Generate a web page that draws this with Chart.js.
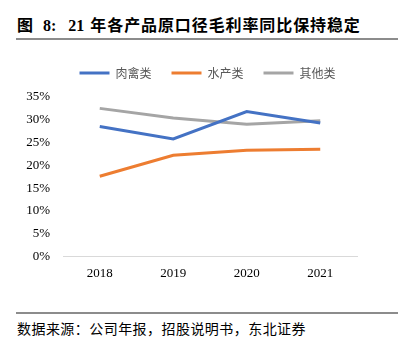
<!DOCTYPE html>
<html>
<head>
<meta charset="utf-8">
<script src="https://cdn.jsdelivr.net/npm/chart.js"></script>
<style>
  body { margin: 0; width: 402px; height: 347px; background: #fff; position: relative; overflow: hidden; }
  .title {
    position: absolute; left: 17px; top: 12px;
    font: bold 16px "Liberation Serif", "Noto Sans CJK SC", serif;
    color: #000; white-space: nowrap;
  }
  .rule { position: absolute; left: 16px; width: 382px; height: 2px; background: #8c8c8c; }
  .foot {
    position: absolute; left: 17px; top: 318px;
    font: 14px "Liberation Serif", "Noto Sans CJK SC", serif;
    letter-spacing: 0.45px;
    color: #000; white-space: nowrap;
  }
  #wrap { position: absolute; left: 0; top: 45px; width: 402px; height: 255px; }
</style>
</head>
<body>
<div class="title"><span>图</span><span style="margin-left:10px">8:</span><span style="margin-left:12px">21</span><span style="margin-left:6px; letter-spacing:0.9px">年各产品原口径毛利率同比保持稳定</span></div>
<div class="rule" style="top:38px"></div>
<div id="wrap"><canvas id="c"></canvas></div>
<div class="rule" style="top:312px; height:1.5px"></div>
<div class="foot">数据来源：公司年报，招股说明书，东北证券</div>
<script>
const years = ["2018", "2019", "2020", "2021"];
const meat = [0.285, 0.258, 0.318, 0.293];
const aquatic = [0.176, 0.222, 0.233, 0.235];
const other = [0.325, 0.304, 0.290, 0.298];
const yTicks = [0, 0.05, 0.10, 0.15, 0.20, 0.25, 0.30, 0.35];

const serif = "'Liberation Serif', 'Noto Sans CJK SC', serif";

function series(label, data, color) {
  return {
    label: label,
    data: data,
    borderColor: color,
    backgroundColor: color,
    borderWidth: 3,
    pointRadius: 0,
    tension: 0,
    fill: false,
  };
}

// extra room under the legend, and legend centred a bit to the right
const legendTweak = {
  id: "legendTweak",
  beforeInit(chart) {
    const fit = chart.legend.fit;
    chart.legend.fit = function () {
      fit.bind(chart.legend)();
      this.height += 8;
    };
  },
  afterLayout(chart) {
    chart.legend.left += 29;
    chart.legend.right += 29;
  },
};

new Chart(document.getElementById("c"), {
  type: "line",
  data: {
    labels: years,
    datasets: [
      series("肉禽类", meat, "#4472c4"),
      series("水产类", aquatic, "#ed7d31"),
      series("其他类", other, "#a5a5a5"),
    ],
  },
  plugins: [legendTweak],
  options: {
    responsive: true,
    maintainAspectRatio: false,
    animation: false,
    layout: { padding: { top: 2, right: 45, bottom: 18, left: 0 } },
    plugins: {
      legend: {
        position: "top",
        labels: {
          usePointStyle: true,
          pointStyle: "line",
          pointStyleWidth: 30,
          color: "#595959",
          font: { family: "'Noto Sans CJK SC', sans-serif", size: 12 },
          padding: 20,
        },
      },
      tooltip: { enabled: false },
    },
    scales: {
      x: {
        offset: true,
        grid: { display: false },
        border: { color: "#d9d9d9", width: 1 },
        ticks: { color: "#000", font: { family: serif, size: 13 }, padding: 1 },
      },
      y: {
        min: 0,
        max: 0.35,
        afterFit: (s) => { s.width = 63; },
        afterBuildTicks: (s) => { s.ticks = yTicks.map((v) => ({ value: v })); },
        grid: { display: false },
        border: { display: false },
        ticks: {
          color: "#000",
          font: { family: serif, size: 13 },
          padding: 5,
          callback: (v) => Math.round(v * 100) + "%",
        },
      },
    },
  },
});
</script>
</body>
</html>
